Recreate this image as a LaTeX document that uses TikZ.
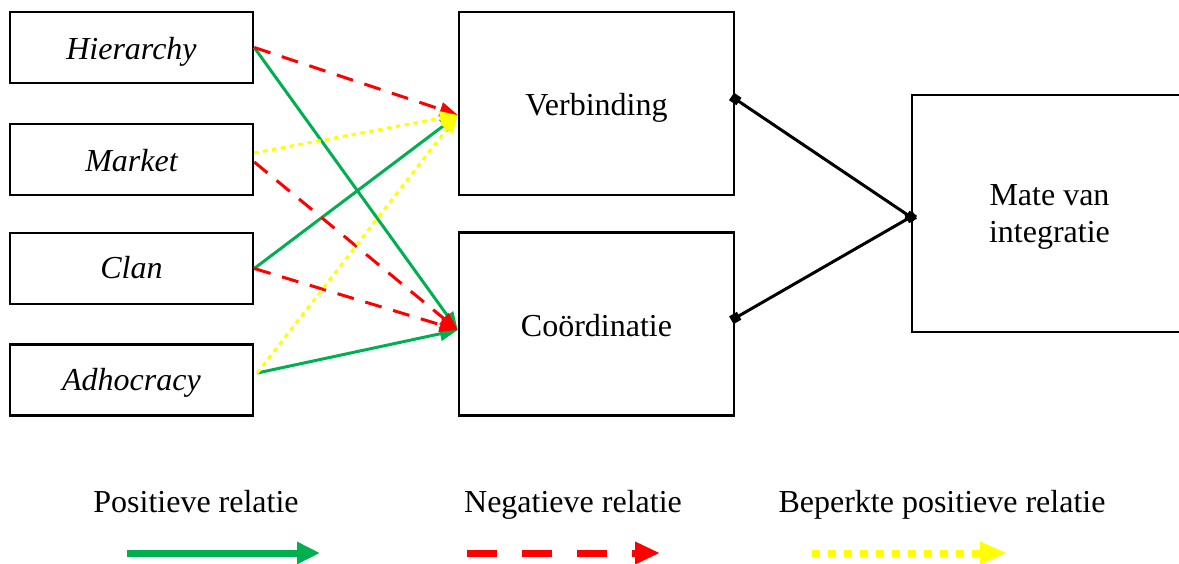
\documentclass[tikz,border=0pt]{standalone}
\usepackage{fontspec}
\setmainfont{Liberation Serif}
\usetikzlibrary{arrows.meta}
\definecolor{pgreen}{HTML}{00B050}
\definecolor{nred}{HTML}{FF0000}
\definecolor{byellow}{HTML}{FFFF00}
\tikzset{
  txt/.style={font=\fontsize{32}{37}\selectfont},
  leftbox/.style={draw, line width=2.5pt, rectangle, minimum width=243pt, minimum height=71pt, inner sep=0pt, font=\fontsize{32}{37}\selectfont\itshape, text height=26pt, text depth=1pt},
  bigbox/.style={draw, line width=2.5pt, rectangle, minimum width=275pt, minimum height=183pt, inner sep=0pt, txt, align=center, text height=26pt, text depth=1pt},
  tipsmall/.style={-{Triangle[length=18pt,width=14pt]}},
  posline/.style={pgreen, line width=3pt, tipsmall},
  negline/.style={nred, line width=3pt, dash pattern=on 17pt off 12pt, tipsmall},
  limline/.style={byellow, line width=3pt, dash pattern=on 4.5pt off 4.5pt, tipsmall},
  linkline/.style={black, line width=3pt, {Square[length=9pt,width=9pt]}-{Square[length=9pt,width=9pt]}, shorten <=-4.5pt, shorten >=-4.5pt},
  legpos/.style={pgreen, line width=7pt, -{Triangle[length=23pt,width=21pt]}},
  legneg/.style={nred, line width=7pt, dash pattern=on 30pt off 25pt, -{Triangle[length=25pt,width=21pt]}},
  leglim/.style={byellow, line width=7pt, dash pattern=on 8pt off 8pt, -{Triangle[length=27pt,width=21pt]}},
}
\begin{document}
\begin{tikzpicture}[x=1pt,y=-1pt]
\useasboundingbox (0,0) rectangle (1179,564);
% left column
\node[leftbox] (hier) at (131.5,47.5) {Hierarchy};
\node[leftbox] (market) at (131.5,159.5) {Market};
\node[leftbox, text height=24pt, text depth=4pt] (clan) at (131.5,268.5) {Clan};
\node[leftbox, text height=24pt, text depth=4pt] (adhoc) at (131.5,380) {Adhocracy};
% middle
\node[bigbox] (verb) at (596.5,103.5) {Verbinding};
\node[bigbox] (coor) at (596.5,324) {Coördinatie};
% right
\node[bigbox, minimum height=237pt, text height=60pt, text depth=1pt] (mate) at (1049.5,213.5) {Mate van\\integratie};
% targets
\coordinate (vin) at ([yshift=-11.5pt]verb.west);
\coordinate (cin) at ([yshift=-6pt]coor.west);
% positive
\draw[posline] (hier.east) -- (cin);
\draw[posline] (clan.east) -- (vin);
\draw[posline] ([xshift=3pt,yshift=7pt]adhoc.east) -- (cin);
% negative
\draw[negline] (hier.east) -- (vin);
\draw[negline] ([yshift=-2.5pt]market.east) -- (cin);
\draw[negline] (clan.east) -- (cin);
% limited
\draw[limline] ([yshift=6.5pt]market.east) -- (vin);
\draw[limline] ([xshift=3pt,yshift=7pt]adhoc.east) -- (vin);
% links to Mate
\draw[linkline] ([yshift=4.5pt]verb.east) -- ([yshift=-3.5pt]mate.west);
\draw[linkline] ([yshift=6pt]coor.east) -- ([yshift=-3.5pt]mate.west);
% legend
\node[txt, anchor=base] (lp) at (196,512) {Positieve relatie};
\node[txt, anchor=base] (ln) at (573,512) {Negatieve relatie};
\node[txt, anchor=base] (ll) at (942,512) {Beperkte positieve relatie};
\coordinate (lpa) at (127,553);
\coordinate (lpb) at (320,553);
\coordinate (lna) at (467,553);
\coordinate (lnb) at (660,553);
\coordinate (lla) at (812,553);
\coordinate (llb) at (1007,553);
\draw[legpos] (lpa) -- (lpb);
\draw[legneg] (lna) -- (lnb);
\draw[leglim] (lla) -- (llb);
\end{tikzpicture}
\end{document}
